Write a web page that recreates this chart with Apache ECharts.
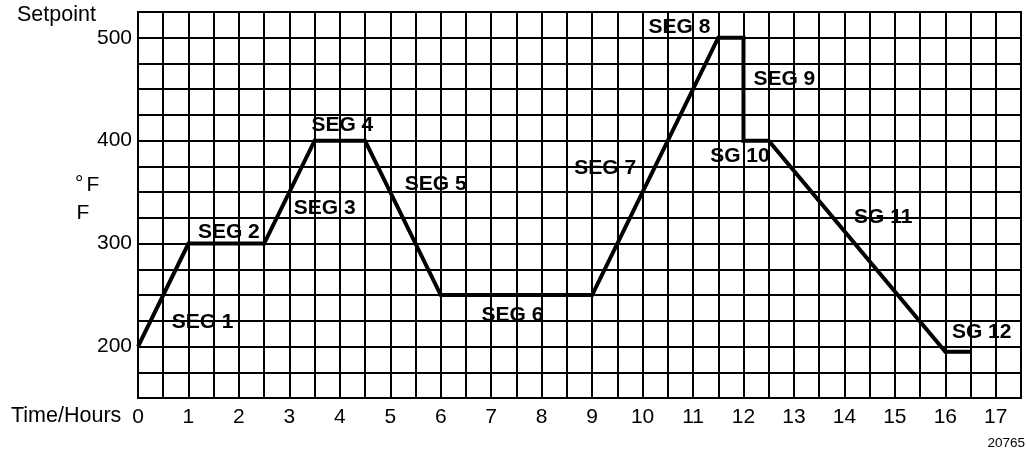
<!DOCTYPE html>
<html>
<head>
<meta charset="utf-8">
<script src="https://cdn.jsdelivr.net/npm/echarts@6/dist/echarts.min.js"></script>
<style>
  html, body { margin: 0; padding: 0; background: #fff; }
  #chart { width: 1026px; height: 452px; }
</style>
</head>
<body>
<div id="chart"></div>
<script>
// ramp/soak profile, one point per segment end
var hours = [0, 1, 2.5, 3.5, 4.5, 6, 9, 11.5, 12, 12, 12.5, 16, 16.5]
var setpoints = [200, 300, 300, 400, 400, 250, 250, 500, 500, 400, 400, 195, 195]

// segment captions and where they sit (hours, °F)
var segNames = ['SEG 1', 'SEG 2', 'SEG 3', 'SEG 4', 'SEG 5', 'SEG 6', 'SEG 7', 'SEG 8', 'SEG 9', 'SG 10', 'SG 11', 'SG 12']
var segHours = [1.28, 1.8, 3.7, 4.05, 5.9, 7.42, 9.26, 10.73, 12.81, 11.93, 14.77, 16.72]
var segTemps = [224, 311, 334, 415, 358, 230, 373, 510, 460, 385, 326, 214]

var yTicks = [200, 300, 400, 500]

var font = 'Liberation Sans, Arial, sans-serif'

var myChart = echarts.init(document.getElementById('chart'))

var profile = hours.map(function(h, i) { return [h, setpoints[i]] })
var captions = segNames.map(function(n, i) {
  return { name: n, value: [segHours[i], segTemps[i]] }
})

var option = {
  backgroundColor: '#fff',
  animation: false,
  grid: {
    left: 138,
    right: 5,
    top: 12,
    bottom: 54,
    show: true,
    borderColor: '#000',
    borderWidth: 2
  },
  xAxis: {
    type: 'value',
    min: 0,
    max: 17.5,
    interval: 0.5,
    axisLine: { show: true, lineStyle: { color: '#000', width: 2 } },
    axisTick: { show: false },
    splitLine: { show: true, lineStyle: { color: '#000', width: 2 } },
    axisLabel: {
      color: '#000',
      fontSize: 21,
      fontFamily: font,
      margin: 9,
      showMaxLabel: false,
      formatter: function(v) {
        return Number.isInteger(v) ? String(v) : ''
      }
    }
  },
  yAxis: {
    type: 'value',
    min: 150,
    max: 525,
    interval: 25,
    axisLine: { show: true, lineStyle: { color: '#000', width: 2 } },
    axisTick: { show: false },
    splitLine: { show: true, lineStyle: { color: '#000', width: 2 } },
    axisLabel: {
      color: '#000',
      fontSize: 21,
      fontFamily: font,
      margin: 6,
      formatter: function(v) {
        return yTicks.indexOf(v) > -1 ? String(v) : ''
      }
    }
  },
  graphic: [
    { type: 'text', left: 17, top: 4, style: { text: 'Setpoint', fontSize: 21.5, fontFamily: font, fill: '#000' } },
    { type: 'text', left: 11, top: 405, style: { text: 'Time/Hours', fontSize: 21.5, fontFamily: font, fill: '#000' } },
    { type: 'text', left: 75, top: 174, style: { text: '°', fontSize: 21, fontFamily: font, fill: '#000' } },
    { type: 'text', left: 86.5, top: 175, style: { text: 'F', fontSize: 21, fontFamily: font, fill: '#000' } },
    { type: 'text', left: 76.5, top: 203, style: { text: 'F', fontSize: 21, fontFamily: font, fill: '#000' } },
    { type: 'text', right: 1, top: 436, style: { text: '20765', fontSize: 13.5, fontFamily: font, fill: '#000' } }
  ],
  series: [
    {
      type: 'line',
      data: profile,
      symbol: 'none',
      lineStyle: { color: '#000', width: 4, join: 'miter' },
      z: 5
    },
    {
      type: 'scatter',
      data: captions,
      symbolSize: 0,
      itemStyle: { opacity: 1 },
      label: {
        show: true,
        position: 'inside',
        formatter: '{b}',
        color: '#000',
        opacity: 1,
        fontSize: 21,
        fontWeight: 'bold',
        fontFamily: font
      },
      z: 6
    }
  ]
}
myChart.setOption(option, true)
</script>
</body>
</html>
